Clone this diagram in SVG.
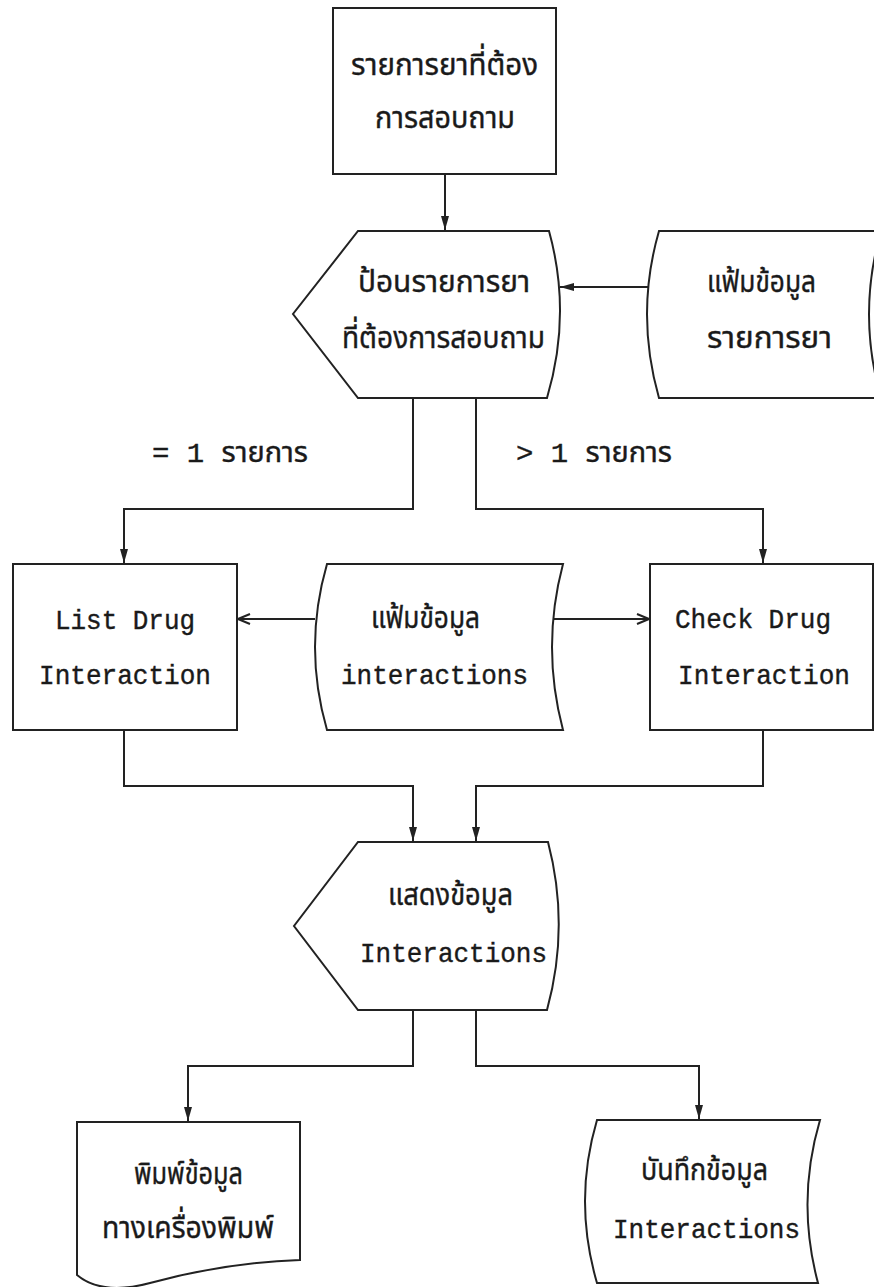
<svg xmlns="http://www.w3.org/2000/svg" width="874" height="1287" viewBox="0 0 874 1287">
<defs>
<style>
.shape{fill:#fff;stroke:#222;stroke-width:2;stroke-linejoin:miter}
.conn{fill:none;stroke:#222;stroke-width:2}
.t{font-family:'Liberation Mono','Tlwg Typo','Noto Sans Thai','Noto Serif Thai','Loma','Garuda','Norasi','DejaVu Sans Mono',monospace;font-size:28px;fill:#1a1a1a;stroke:#1a1a1a;stroke-width:0.4}
.th{font-size:31px}
</style>
<marker id="ah" markerUnits="userSpaceOnUse" viewBox="0 0 14 8" refX="14" refY="4" markerWidth="14" markerHeight="8" orient="auto">
<path d="M0,0 L14,4 L0,8 Z" fill="#222"/>
</marker>
<marker id="ao" markerUnits="userSpaceOnUse" viewBox="0 0 14 12" refX="13" refY="6" markerWidth="14" markerHeight="12" orient="auto">
<path d="M1,1 L13,6 L1,11" fill="none" stroke="#222" stroke-width="2"/>
</marker>
</defs>
<rect width="874" height="1287" fill="#fff"/>

<g id="connectors">
<path class="conn" d="M445,174 L445,230" marker-end="url(#ah)"/>
<path class="conn" d="M648,287 L560,287" marker-end="url(#ah)"/>
<path class="conn" d="M413,398 L413,509 L124,509 L124,563" marker-end="url(#ah)"/>
<path class="conn" d="M476,398 L476,509 L763,509 L763,563" marker-end="url(#ah)"/>
<path class="conn" d="M315,619 L238,619" marker-end="url(#ao)"/>
<path class="conn" d="M552,619 L649,619" marker-end="url(#ao)"/>
<path class="conn" d="M124,730 L124,786 L413,786 L413,841" marker-end="url(#ah)"/>
<path class="conn" d="M763,730 L763,786 L476,786 L476,841" marker-end="url(#ah)"/>
<path class="conn" d="M413,1010 L413,1066 L188,1066 L188,1121" marker-end="url(#ah)"/>
<path class="conn" d="M476,1010 L476,1066 L699,1066 L699,1119" marker-end="url(#ah)"/>
<text class="t" x="152" y="462" textLength="156" lengthAdjust="spacingAndGlyphs">= 1 รายการ</text>
<text class="t" x="516" y="462" textLength="156" lengthAdjust="spacingAndGlyphs">&gt; 1 รายการ</text>
</g>

<g id="drug-list-request">
<rect class="shape" x="333" y="8" width="223" height="166"/>
<text class="t th" x="351" y="75" textLength="187" lengthAdjust="spacingAndGlyphs">รายการยาที่ต้อง</text>
<text class="t th" x="375" y="128" textLength="140" lengthAdjust="spacingAndGlyphs">การสอบถาม</text>
</g>

<g id="input-display">
<path class="shape" d="M358,231 L549,231 Q572,314 547,398 L358,398 L293,314 Z"/>
<text class="t th" x="358" y="292" textLength="172" lengthAdjust="spacingAndGlyphs">ป้อนรายการยา</text>
<text class="t th" x="342" y="348" textLength="203" lengthAdjust="spacingAndGlyphs">ที่ต้องการสอบถาม</text>
</g>

<g id="drug-file">
<path class="shape" d="M881,231 L659,231 Q635,314 659,398 L881,398 Q857,314 881,231 Z"/>
<text class="t th" x="707" y="292" textLength="109" lengthAdjust="spacingAndGlyphs">แฟ้มข้อมูล</text>
<text class="t th" x="707" y="348" textLength="125" lengthAdjust="spacingAndGlyphs">รายการยา</text>
</g>

<g id="list-drug">
<rect class="shape" x="13" y="564" width="224" height="166"/>
<text class="t" x="55" y="629" textLength="140" lengthAdjust="spacingAndGlyphs">List Drug</text>
<text class="t" x="39" y="684" textLength="172" lengthAdjust="spacingAndGlyphs">Interaction</text>
</g>

<g id="interactions-file">
<path class="shape" d="M327,564 L563,564 Q541,647 563,730 L327,730 Q303,647 327,564 Z"/>
<text class="t th" x="371" y="628" textLength="109" lengthAdjust="spacingAndGlyphs">แฟ้มข้อมูล</text>
<text class="t" x="341" y="684" textLength="187" lengthAdjust="spacingAndGlyphs">interactions</text>
</g>

<g id="check-drug">
<rect class="shape" x="650" y="564" width="223" height="166"/>
<text class="t" x="675" y="628" textLength="156" lengthAdjust="spacingAndGlyphs">Check Drug</text>
<text class="t" x="678" y="684" textLength="172" lengthAdjust="spacingAndGlyphs">Interaction</text>
</g>

<g id="show-display">
<path class="shape" d="M358,842 L548,842 Q570,926 547,1010 L358,1010 L294,926 Z"/>
<text class="t th" x="388" y="905" textLength="125" lengthAdjust="spacingAndGlyphs">แสดงข้อมูล</text>
<text class="t" x="360" y="962" textLength="187" lengthAdjust="spacingAndGlyphs">Interactions</text>
</g>

<g id="print-document">
<path class="shape" d="M77,1122 L300,1122 L300,1260 C240,1262 190,1272 150,1283 C120,1291 95,1290 77,1275 Z"/>
<text class="t th" x="134" y="1184" textLength="109" lengthAdjust="spacingAndGlyphs">พิมพ์ข้อมูล</text>
<text class="t th" x="102" y="1238" textLength="172" lengthAdjust="spacingAndGlyphs">ทางเครื่องพิมพ์</text>
</g>

<g id="save-file">
<path class="shape" d="M597,1120 L820,1120 Q796,1201 818,1283 L597,1283 Q573,1201 597,1120 Z"/>
<text class="t th" x="641" y="1180" textLength="127" lengthAdjust="spacingAndGlyphs">บันทึกข้อมูล</text>
<text class="t" x="613" y="1238" textLength="187" lengthAdjust="spacingAndGlyphs">Interactions</text>
</g>
</svg>
